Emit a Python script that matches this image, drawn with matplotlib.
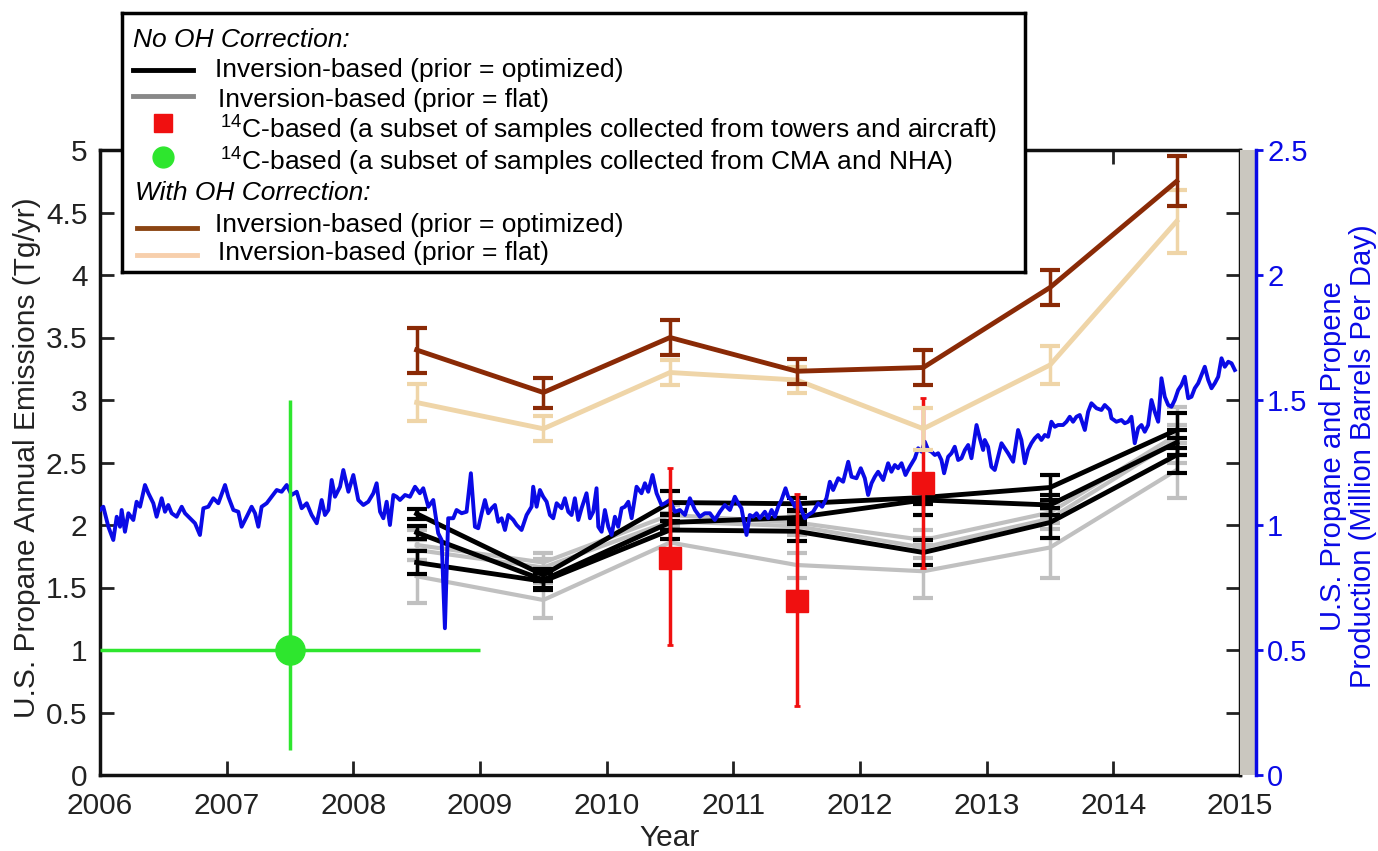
import matplotlib
matplotlib.use('Agg')
import matplotlib.pyplot as plt
import matplotlib.transforms as mtransforms
from matplotlib.ticker import FormatStrFormatter
import numpy as np

plt.rcParams['font.family'] = ['Liberation Sans', 'DejaVu Sans']
plt.rcParams['mathtext.fontset'] = 'custom'
plt.rcParams['mathtext.rm'] = 'Liberation Sans'

# ---- data ----
years = [2008.5, 2009.5, 2010.5, 2011.5, 2012.5, 2013.5, 2014.5]

# no OH correction, prior = optimized (black)
black1 = [2.09, 1.60, 2.18, 2.17, 2.22, 2.30, 2.76]
black1_err = [0.04, 0.05, 0.09, 0.05, 0.05, 0.10, 0.14]
black2 = [1.94, 1.56, 2.02, 2.06, 2.20, 2.16, 2.66]
black2_err = [0.05, 0.06, 0.06, 0.05, 0.12, 0.08, 0.10]
black3 = [1.70, 1.55, 1.96, 1.95, 1.78, 2.02, 2.56]
black3_err = [0.09, 0.07, 0.07, 0.08, 0.10, 0.12, 0.14]

# no OH correction, prior = flat (grey)
grey1 = [1.84, 1.70, 2.08, 2.02, 1.88, 2.10, 2.72]
grey1_err = [0.12, 0.08, 0.08, 0.08, 0.08, 0.08, 0.22]
grey2 = [1.80, 1.66, 2.03, 1.99, 1.82, 2.05, 2.68]
grey2_err = [0.08, 0.07, 0.07, 0.07, 0.08, 0.08, 0.12]
grey3 = [1.59, 1.40, 1.86, 1.68, 1.63, 1.82, 2.44]
grey3_err = [0.21, 0.14, 0.12, 0.10, 0.21, 0.24, 0.22]

# with OH correction
brown = [3.40, 3.06, 3.50, 3.23, 3.26, 3.90, 4.75]
brown_err = [0.18, 0.12, 0.14, 0.10, 0.14, 0.14, 0.20]
tan = [2.98, 2.77, 3.22, 3.16, 2.77, 3.28, 4.43]
tan_err = [0.15, 0.10, 0.10, 0.10, 0.17, 0.15, 0.25]

# 14C-based, towers and aircraft
red_x = [2010.5, 2011.5, 2012.5]
red_y = [1.74, 1.39, 2.34]
red_lo = [0.70, 0.84, 0.68]
red_hi = [0.72, 0.86, 0.68]

# 14C-based, CMA and NHA
green_x = [2007.5]
green_y = [1.0]
green_xerr = [1.5]
green_lo = [0.8]
green_hi = [2.0]

# US propane + propene production (million barrels per day), right axis
prod_year_a = [2006.0, 2006.026, 2006.066, 2006.105, 2006.132, 2006.158, 2006.171, 2006.197, 2006.224, 2006.263,
               2006.289, 2006.316, 2006.355, 2006.382, 2006.421, 2006.447, 2006.487, 2006.513, 2006.539, 2006.566,
               2006.605, 2006.645, 2006.671, 2006.711, 2006.750, 2006.789, 2006.816, 2006.855, 2006.895, 2006.934,
               2006.987, 2007.013, 2007.053, 2007.092, 2007.118, 2007.158, 2007.197, 2007.224, 2007.250, 2007.276,
               2007.316, 2007.355, 2007.395, 2007.434, 2007.474, 2007.513, 2007.553, 2007.592, 2007.632, 2007.671,
               2007.711, 2007.750, 2007.776, 2007.803, 2007.829, 2007.855, 2007.895, 2007.921, 2007.961, 2008.000,
               2008.039, 2008.079, 2008.118, 2008.158, 2008.184, 2008.211, 2008.237, 2008.263, 2008.289, 2008.316,
               2008.342, 2008.368, 2008.408, 2008.447, 2008.487]
prod_val_a = [1.06, 1.073, 0.993, 0.94, 1.033, 0.993, 1.06, 0.973, 1.047, 1.02,
              1.093, 1.073, 1.16, 1.127, 1.087, 1.033, 1.107, 1.053, 1.08, 1.047,
              1.033, 1.073, 1.047, 1.027, 1.007, 0.96, 1.067, 1.073, 1.107, 1.087,
              1.16, 1.113, 1.06, 1.053, 0.993, 1.033, 1.073, 1.047, 0.993, 1.073,
              1.087, 1.113, 1.14, 1.133, 1.16, 1.12, 1.133, 1.067, 1.087, 1.04,
              1.007, 1.10, 1.04, 1.06, 1.18, 1.113, 1.153, 1.22, 1.133, 1.20,
              1.10, 1.08, 1.093, 1.127, 1.167, 1.053, 1.027, 1.093, 1.0, 1.12,
              1.113, 1.10, 1.12, 1.113, 1.153]
prod_year_b = [2008.525, 2008.552, 2008.592, 2008.631, 2008.670, 2008.697, 2008.723, 2008.749, 2008.789, 2008.815,
               2008.855, 2008.894, 2008.928, 2008.960, 2008.986, 2009.013, 2009.039, 2009.065, 2009.092, 2009.118,
               2009.144, 2009.171, 2009.197, 2009.223, 2009.263, 2009.289, 2009.328, 2009.368, 2009.407, 2009.420,
               2009.447, 2009.473, 2009.499, 2009.526, 2009.552, 2009.578, 2009.605, 2009.644, 2009.670, 2009.697,
               2009.723, 2009.749, 2009.776, 2009.802, 2009.841, 2009.868, 2009.894, 2009.920, 2009.934, 2009.960,
               2009.986, 2010.013, 2010.039, 2010.065, 2010.091, 2010.118, 2010.144, 2010.171, 2010.197, 2010.236,
               2010.275, 2010.302, 2010.328, 2010.362, 2010.394, 2010.433, 2010.460, 2010.499, 2010.538, 2010.578,
               2010.618, 2010.657, 2010.697, 2010.736, 2010.775, 2010.815, 2010.854, 2010.894, 2010.933, 2010.973]
prod_val_b = [1.127, 1.147, 1.073, 1.10, 0.967, 0.94, 0.587, 1.027, 1.027, 1.06,
              1.047, 1.053, 1.207, 0.993, 0.987, 1.047, 1.10, 1.047, 1.067, 1.08,
              1.013, 1.027, 0.98, 1.04, 1.02, 1.00, 0.98, 1.04, 1.073, 1.153,
              1.073, 1.14, 1.113, 1.093, 1.04, 1.027, 1.087, 1.067, 1.107, 1.053,
              1.04, 1.107, 1.02, 1.067, 1.127, 1.027, 1.053, 1.147, 0.993, 0.973,
              1.06, 0.993, 0.96, 1.033, 0.993, 1.067, 1.073, 1.093, 1.027, 1.153,
              1.127, 1.167, 1.133, 1.20, 1.127, 1.08, 1.087, 1.10, 1.053, 1.06,
              1.04, 1.107, 1.06, 1.033, 1.047, 1.047, 1.02, 1.053, 1.08, 1.06]
prod_year_c = [2011.012, 2011.038, 2011.064, 2011.104, 2011.130, 2011.157, 2011.183, 2011.209, 2011.249, 2011.275,
               2011.302, 2011.328, 2011.354, 2011.380, 2011.412, 2011.433, 2011.459, 2011.486, 2011.512, 2011.538,
               2011.565, 2011.591, 2011.630, 2011.670, 2011.701, 2011.735, 2011.762, 2011.788, 2011.828, 2011.867,
               2011.907, 2011.933, 2011.972, 2012.006, 2012.038, 2012.064, 2012.091, 2012.117, 2012.143, 2012.183,
               2012.222, 2012.248, 2012.275, 2012.301, 2012.328, 2012.359, 2012.393, 2012.433, 2012.459, 2012.486,
               2012.512, 2012.538, 2012.564, 2012.591, 2012.617, 2012.643, 2012.664, 2012.696, 2012.722, 2012.748,
               2012.775, 2012.801, 2012.828, 2012.854, 2012.880, 2012.920, 2012.946, 2012.972]
prod_val_c = [1.113, 1.087, 1.067, 0.96, 1.04, 1.033, 1.047, 1.027, 1.053, 1.027,
              1.06, 1.033, 1.073, 1.10, 1.147, 1.113, 1.10, 1.073, 1.10, 1.06,
              1.027, 1.04, 1.053, 1.087, 1.073, 1.107, 1.173, 1.14, 1.187, 1.173,
              1.253, 1.193, 1.187, 1.227, 1.187, 1.12, 1.167, 1.193, 1.213, 1.18,
              1.247, 1.213, 1.24, 1.227, 1.247, 1.20, 1.233, 1.267, 1.307, 1.293,
              1.333, 1.30, 1.293, 1.28, 1.287, 1.26, 1.207, 1.273, 1.287, 1.313,
              1.26, 1.267, 1.30, 1.32, 1.267, 1.40, 1.347, 1.30]
prod_year_d = [2012.985, 2013.011, 2013.037, 2013.064, 2013.090, 2013.117, 2013.143, 2013.169, 2013.209, 2013.248,
               2013.274, 2013.301, 2013.327, 2013.353, 2013.380, 2013.406, 2013.432, 2013.459, 2013.485, 2013.511,
               2013.538, 2013.564, 2013.603, 2013.630, 2013.656, 2013.682, 2013.709, 2013.735, 2013.775, 2013.801,
               2013.827, 2013.867, 2013.906, 2013.932, 2013.972, 2013.985, 2014.024, 2014.064, 2014.090, 2014.117,
               2014.143, 2014.169, 2014.196, 2014.222, 2014.248, 2014.275, 2014.301, 2014.327, 2014.354, 2014.380,
               2014.406, 2014.433, 2014.459, 2014.485, 2014.512, 2014.538, 2014.564, 2014.591, 2014.617, 2014.643,
               2014.670, 2014.696, 2014.722, 2014.749, 2014.775, 2014.801, 2014.828, 2014.854, 2014.880, 2014.907,
               2014.933, 2014.959]
prod_val_d = [1.34, 1.313, 1.233, 1.22, 1.273, 1.327, 1.307, 1.287, 1.253, 1.38,
              1.34, 1.247, 1.30, 1.327, 1.347, 1.36, 1.34, 1.36, 1.353, 1.413,
              1.393, 1.40, 1.40, 1.413, 1.433, 1.413, 1.433, 1.44, 1.38, 1.453,
              1.487, 1.467, 1.46, 1.48, 1.46, 1.427, 1.413, 1.42, 1.407, 1.413,
              1.433, 1.327, 1.387, 1.40, 1.373, 1.40, 1.50, 1.453, 1.413, 1.587,
              1.513, 1.48, 1.473, 1.50, 1.54, 1.56, 1.593, 1.507, 1.513, 1.547,
              1.567, 1.60, 1.633, 1.58, 1.547, 1.567, 1.593, 1.667, 1.633, 1.653,
              1.647, 1.62]

prod_year = prod_year_a + prod_year_b + prod_year_c + prod_year_d
prod_val = prod_val_a + prod_val_b + prod_val_c + prod_val_d

# ---- colours ----
c_black = 'black'
c_grey = '#c0c0c0'
c_brown = '#8a2a06'
c_tan = '#efd5a8'
c_red = '#f01010'
c_green = '#2ee62e'
c_blue = '#0a0ae6'
FS = 19      # legend text
FA = 21.5    # axis text

fig = plt.figure(figsize=(13.78, 8.51), dpi=100)
W, H = 1378.0, 851.0
L, R, T, B = 100, 1240, 150, 775
ax = fig.add_axes([L / W, 1 - B / H, (R - L) / W, (B - T) / H])

# grey strip holding the blue right axis
ax_r = fig.add_axes([R / W, 1 - B / H, 16 / W, (B - T) / H], facecolor='#cac7bf')
ax_r.set_ylim(0, 2.5)
ax_r.set_xticks([])
ax_r.yaxis.tick_right()
ax_r.set_yticks(np.arange(0, 2.51, 0.5))
ax_r.yaxis.set_major_formatter(FormatStrFormatter('%g'))
ax_r.tick_params(axis='y', colors=c_blue, direction='out', length=5, width=2,
                 labelsize=FA - 0.5, pad=3)
for s in ['left', 'top', 'bottom']:
    ax_r.spines[s].set_visible(False)
ax_r.spines['right'].set_color(c_blue)
ax_r.spines['right'].set_linewidth(2.5)

ekw = dict(capsize=7, capthick=3, elinewidth=2.5)
for v, e in [(grey3, grey3_err), (grey2, grey2_err), (grey1, grey1_err)]:
    ax.errorbar(years, v, yerr=e, color=c_grey, lw=3, zorder=2, **ekw)
for v, e in [(black3, black3_err), (black2, black2_err), (black1, black1_err)]:
    ax.errorbar(years, v, yerr=e, color=c_black, lw=3.5, zorder=3, **ekw)

# production on the right-axis scale
trans = mtransforms.blended_transform_factory(ax.transData, ax_r.transData)
ax.plot(prod_year, prod_val, color=c_blue, lw=2.8, transform=trans, zorder=4)

ax.errorbar(green_x, green_y, xerr=green_xerr, yerr=[green_lo, green_hi], fmt='o',
            color=c_green, ms=21, elinewidth=2.5, capsize=0, zorder=5)
ax.errorbar(red_x, red_y, yerr=[red_lo, red_hi], fmt='s', color=c_red, ms=16,
            elinewidth=2.5, capsize=2, capthick=2, zorder=6)
ax.errorbar(years, tan, yerr=tan_err, color=c_tan, lw=3.5, zorder=7, **ekw)
ax.errorbar(years, brown, yerr=brown_err, color=c_brown, lw=3.5, zorder=8, **ekw)

ax.set_xlim(2006, 2015)
ax.set_ylim(0, 5)
ax.set_xticks(range(2006, 2016))
ax.set_yticks(np.arange(0, 5.01, 0.5))
ax.yaxis.set_major_formatter(FormatStrFormatter('%g'))
ax.tick_params(direction='in', length=10, width=2, top=True, right=True,
               labelsize=FA, colors='#222222')
ax.tick_params(axis='x', pad=12)
ax.tick_params(axis='y', pad=9)
for s in ax.spines.values():
    s.set_linewidth(2.5)
    s.set_color('#111111')

fig.text(27 / W, 1 - 458 / H, 'U.S. Propane Annual Emissions (Tg/yr)', rotation=90,
         ha='center', va='center', fontsize=FA, color='#222222')
fig.text(670 / W, 1 - 838 / H, 'Year', ha='center', va='center', fontsize=FA, color='#222222')
fig.text(1348 / W, 1 - 456 / H, 'U.S. Propane and Propene\nProduction (Million Barrels Per Day)',
         rotation=90, ha='center', va='center', fontsize=FA - 0.5, color=c_blue, linespacing=1.1)

# legend box drawn in its own axes
lx0, lx1, ly0, ly1 = 122, 1025, 13, 272
lg = fig.add_axes([lx0 / W, 1 - ly1 / H, (lx1 - lx0) / W, (ly1 - ly0) / H])
lg.set_xlim(lx0, lx1)
lg.set_ylim(ly1, ly0)
lg.set_xticks([])
lg.set_yticks([])
for s in lg.spines.values():
    s.set_linewidth(2.5)

lg.text(133, 40, 'No OH Correction:', style='italic', fontsize=FS, va='center')
lg.plot([133, 193], [70, 70], color='black', lw=3.5)
lg.text(215, 70, 'Inversion-based (prior = optimized)', fontsize=FS, va='center')
lg.plot([133, 193], [96, 96], color='#888888', lw=3.5)
lg.text(218, 100, 'Inversion-based (prior = flat)', fontsize=FS, va='center')
lg.plot([163], [123], 's', color=c_red, ms=13)
lg.text(220, 129, r'$^{14}$C-based (a subset of samples collected from towers and aircraft)',
        fontsize=FS, va='center')
lg.plot([163], [157], 'o', color=c_green, ms=15)
lg.text(220, 161, r'$^{14}$C-based (a subset of samples collected from CMA and NHA)',
        fontsize=FS, va='center')
lg.text(135, 193, 'With OH Correction:', style='italic', fontsize=FS, va='center')
lg.plot([137, 197], [228, 228], color='#8b4513', lw=3.5)
lg.text(215, 225, 'Inversion-based (prior = optimized)', fontsize=FS, va='center')
lg.plot([137, 197], [255, 255], color='#f7cfac', lw=3.5)
lg.text(218, 253, 'Inversion-based (prior = flat)', fontsize=FS, va='center')

fig.savefig('out.png', dpi=100)
